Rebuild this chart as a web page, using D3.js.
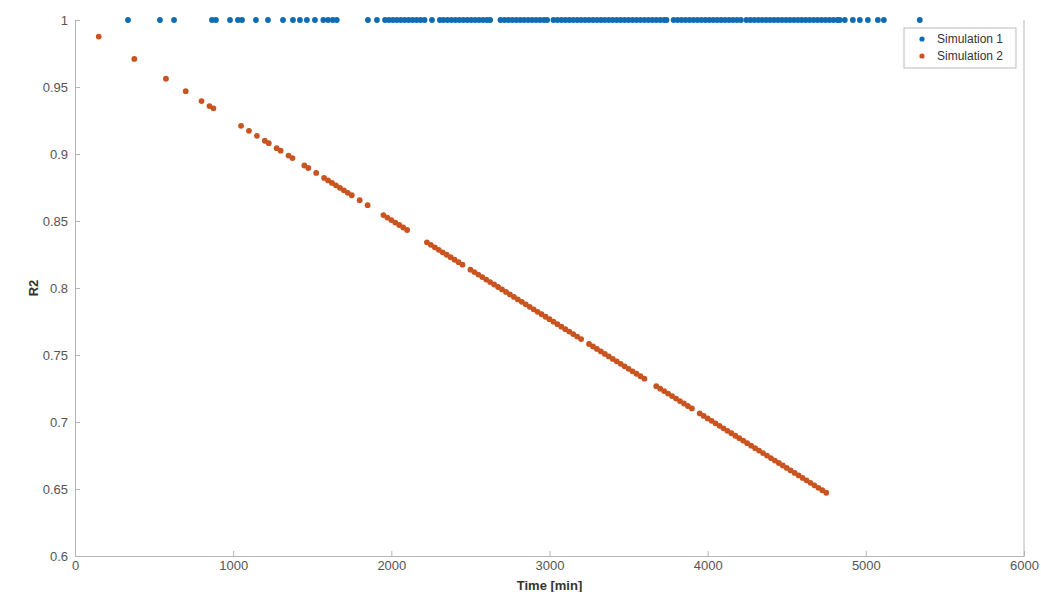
<!DOCTYPE html>
<html>
<head>
<meta charset="utf-8">
<script src="https://cdn.jsdelivr.net/npm/d3@7"></script>
<style>
  body { margin: 0; background: #fff; }
  svg { display: block; font-family: "Liberation Sans", Arial, sans-serif; }
</style>
</head>
<body>
<div id="chart"></div>
<script>
// Simulation 1: every point sits at R2 = 1
const sim1Time = [
  335, 537, 626, 866, 891, 980, 1030, 1056, 1144, 1220, 1315, 1378, 1422, 1466, 1517,
  1570, 1600, 1630, 1655, 1852, 1909,
  1960, 1985, 2010, 2035, 2060, 2085, 2110, 2135, 2160, 2185, 2210, 2257, 2307,
  2330, 2355, 2380, 2405, 2430, 2455, 2480, 2505, 2530, 2555, 2580, 2605, 2625,
  2690, 2715, 2740, 2765, 2790, 2815, 2840, 2865, 2890, 2915, 2940, 2965, 2985,
  3025, 3050, 3075, 3100, 3125, 3150, 3175, 3200, 3225, 3250, 3275, 3300, 3325, 3350, 3375,
  3400, 3425, 3450, 3475, 3500, 3525, 3550, 3575, 3600, 3625, 3650, 3675, 3700, 3725, 3740,
  3785, 3810, 3835, 3860, 3885, 3910, 3935, 3960, 3985, 4010, 4035, 4060, 4085, 4110, 4135,
  4160, 4185, 4210,
  4245, 4270, 4295, 4320, 4345, 4370, 4395, 4420, 4445, 4470, 4495, 4520, 4545, 4570, 4595,
  4620, 4645, 4670, 4695, 4720, 4745, 4770, 4795, 4820, 4835,
  4867, 4918, 4962, 5013, 5076, 5114, 5341
];
const sim1R2 = 1;

const sim2Time = [
  150, 375, 575, 700, 800, 850, 875, 1050, 1100, 1150, 1200, 1225, 1275, 1300, 1350, 1375,
  1450, 1475, 1525, 1575, 1600, 1625, 1650, 1675, 1700, 1725, 1750, 1800, 1850,
  1950, 1975, 2000, 2025, 2050, 2075, 2100,
  2225, 2250, 2275, 2300, 2325, 2350, 2375, 2400, 2425, 2450,
  2500, 2525, 2550, 2575, 2600, 2625, 2650, 2675, 2700, 2725, 2750, 2775, 2800, 2825, 2850,
  2875, 2900, 2925, 2950, 2975, 3000, 3025, 3050, 3075, 3100, 3125, 3150, 3175, 3200,
  3250, 3275, 3300, 3325, 3350, 3375, 3400, 3425, 3450, 3475, 3500, 3525, 3550, 3575, 3600,
  3675, 3700, 3725, 3750, 3775, 3800, 3825, 3850, 3875, 3900,
  3950, 3975, 4000, 4025, 4050, 4075, 4100, 4125, 4150, 4175, 4200, 4225, 4250,
  4275, 4300, 4325, 4350, 4375, 4400, 4425, 4450, 4475, 4500, 4525, 4550, 4575, 4600,
  4625, 4650, 4675, 4700, 4725, 4750
];
const sim2R2 = [
  0.9876, 0.97095, 0.95615, 0.9469, 0.9395, 0.9358, 0.93405, 0.921, 0.9173, 0.9136, 0.9099,
  0.90805, 0.90435, 0.9025, 0.8988, 0.89695,
  0.8914, 0.88955, 0.88585, 0.88215, 0.8803, 0.87845, 0.8766, 0.87475, 0.8729, 0.87105,
  0.8692, 0.8655, 0.8618,
  0.8544, 0.85255, 0.8507, 0.84885, 0.847, 0.84515, 0.8433,
  0.83405, 0.8322, 0.83035, 0.8285, 0.82665, 0.8248, 0.82295, 0.8211, 0.81925, 0.8174,
  0.8137, 0.81185, 0.81, 0.80815, 0.8063, 0.80445, 0.8026, 0.80075, 0.7989, 0.79705, 0.7952,
  0.79335, 0.7915, 0.78965, 0.7878,
  0.78595, 0.7841, 0.78225, 0.7804, 0.77855, 0.7767, 0.77485, 0.773, 0.77115, 0.7693,
  0.76745, 0.7656, 0.76375, 0.7619,
  0.7582, 0.75635, 0.7545, 0.75265, 0.7508, 0.74895, 0.7471, 0.74525, 0.7434, 0.74155,
  0.7397, 0.73785, 0.736, 0.73415, 0.7323,
  0.72675, 0.7249, 0.72305, 0.7212, 0.71935, 0.7175, 0.71565, 0.7138, 0.71195, 0.7101,
  0.7064, 0.70455, 0.7027, 0.70085, 0.699, 0.69715, 0.6953, 0.69345, 0.6916, 0.68975,
  0.6879, 0.68605, 0.6842,
  0.68235, 0.6805, 0.67865, 0.6768, 0.67495, 0.6731, 0.67125, 0.6694, 0.66755, 0.6657,
  0.66385, 0.662, 0.66015, 0.6583,
  0.65645, 0.6546, 0.65275, 0.6509, 0.64905, 0.6472
];

const seriesNames = ['Simulation 1', 'Simulation 2'];
const seriesCols = ['#0f6cb0', '#c9541f'];
const xTicks = [0, 1000, 2000, 3000, 4000, 5000, 6000];
const yTicks = [0.6, 0.65, 0.7, 0.75, 0.8, 0.85, 0.9, 0.95, 1];

const width = 1041;
const height = 592;
const margin = { left: 75, top: 20, right: 17, bottom: 36 };
const axisCol = '#b5b5b5';
const labelCol = '#555';
const dotR = 2.9;

const x = d3.scaleLinear()
  .domain([0, 6000])
  .range([margin.left, width - margin.right]);
const y = d3.scaleLinear()
  .domain([0.6, 1])
  .range([height - margin.bottom, margin.top]);

const svg = d3.select('#chart')
  .append('svg')
  .attr('width', width)
  .attr('height', height);

// axes, ticks pointing inward like matlab
const xAxis = svg.append('g')
  .attr('transform', `translate(0, ${y(0.6)})`)
  .call(d3.axisBottom(x).tickValues(xTicks).tickFormat(d3.format('d'))
    .tickSizeInner(-5).tickSizeOuter(0).tickPadding(4));

const yAxis = svg.append('g')
  .attr('transform', `translate(${x(0)}, 0)`)
  .call(d3.axisLeft(y).tickValues(yTicks).tickFormat(d => d3.format('')(+d.toFixed(2)))
    .tickSizeInner(-5).tickSizeOuter(0).tickPadding(7));

[xAxis, yAxis].forEach(g => {
  g.select('.domain').attr('stroke', axisCol);
  g.selectAll('.tick line').attr('stroke', axisCol);
  g.selectAll('.tick text')
    .style('font-size', '13px')
    .style('font-family', '"Liberation Sans", Arial, sans-serif')
    .attr('fill', labelCol);
});
xAxis.selectAll('.tick text').attr('dy', '0.8em');

// right edge of the box
svg.append('line')
  .attr('x1', x(6000)).attr('x2', x(6000))
  .attr('y1', y(1)).attr('y2', y(0.6))
  .attr('stroke', axisCol);

svg.append('text')
  .attr('x', (x(0) + x(6000)) / 2)
  .attr('y', height - 2)
  .attr('text-anchor', 'middle')
  .style('font-size', '13px')
  .style('font-weight', 'bold')
  .attr('fill', '#333')
  .text('Time [min]');

svg.append('text')
  .attr('transform', `translate(38, ${(y(1) + y(0.6)) / 2}) rotate(-90)`)
  .attr('text-anchor', 'middle')
  .style('font-size', '13px')
  .style('font-weight', 'bold')
  .attr('fill', '#333')
  .text('R2');

// points
svg.append('g')
  .selectAll('circle')
  .data(sim1Time)
  .join('circle')
  .attr('cx', d => x(d))
  .attr('cy', y(sim1R2))
  .attr('r', dotR)
  .attr('fill', seriesCols[0]);

svg.append('g')
  .selectAll('circle')
  .data(sim2Time.map((t, i) => [t, sim2R2[i]]))
  .join('circle')
  .attr('cx', d => x(d[0]))
  .attr('cy', d => y(d[1]))
  .attr('r', dotR)
  .attr('fill', seriesCols[1]);

// legend
const legend = svg.append('g')
  .attr('transform', 'translate(904, 28)');

legend.append('rect')
  .attr('width', 112)
  .attr('height', 40)
  .attr('fill', '#fff')
  .attr('stroke', '#bbb');

const item = legend.selectAll('g')
  .data(seriesNames)
  .join('g')
  .attr('transform', (d, i) => `translate(0, ${11 + i * 17})`);

item.append('circle')
  .attr('cx', 18)
  .attr('r', 2.6)
  .attr('fill', (d, i) => seriesCols[i]);

item.append('text')
  .attr('x', 33)
  .attr('dy', '0.35em')
  .style('font-size', '12px')
  .attr('fill', '#333')
  .text(d => d);
</script>
</body>
</html>
